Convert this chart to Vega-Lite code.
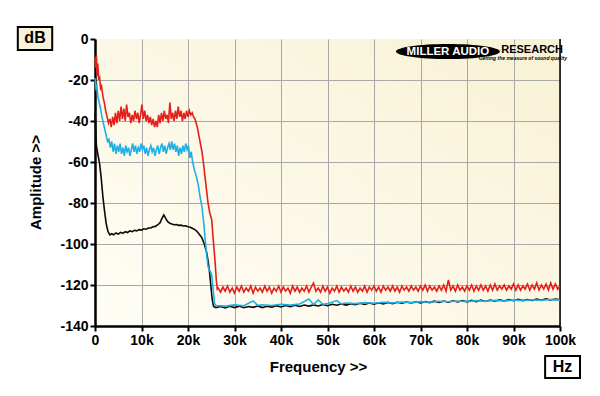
{
  "$schema": "https://vega.github.io/schema/vega-lite/v6.json",
  "width": 465,
  "height": 287,
  "autosize": {"type": "none"},
  "padding": {"left": 95, "top": 39, "right": 40, "bottom": 70},
  "background": "#ffffff",
  "config": {
    "view": {"stroke": null, "fill": {"gradient": "linear", "x1": 0, "y1": 1, "x2": 1, "y2": 0, "stops": [{"offset": 0, "color": "#fffef6"}, {"offset": 1, "color": "#f8f1d4"}]}},
    "axis": {
      "labelFont": "Liberation Sans", "labelFontWeight": "bold", "labelFontSize": 14, "labelColor": "#000000",
      "titleFont": "Liberation Sans", "titleFontWeight": "bold", "titleFontSize": 15, "titleColor": "#000000",
      "domainColor": "#000000", "domainWidth": 2.5, "tickColor": "#000000", "tickWidth": 2, "tickSize": 5,
      "gridColor": "#a8a8a8", "gridWidth": 1, "labelPadding": 2
    }
  },
  "datasets": {
    "red": [
      {"f":0,"v":-9},{"f":0.15,"v":-14},{"f":0.3,"v":-8},{"f":0.45,"v":-18},{"f":0.6,"v":-12},{"f":0.8,"v":-20},{"f":1.0,"v":-19},{"f":1.2,"v":-24},{"f":1.4,"v":-23},{"f":1.7,"v":-28},{"f":2.0,"v":-31},{"f":2.3,"v":-35},{"f":2.6,"v":-38},{"f":2.9,"v":-41},{"f":3.2,"v":-39},{"f":3.5,"v":-43},{"f":3.8,"v":-38},{"f":4.1,"v":-42},{"f":4.4,"v":-36},{"f":4.7,"v":-41},{"f":5.0,"v":-35},{"f":5.3,"v":-40},{"f":5.6,"v":-33},{"f":5.9,"v":-39},{"f":6.2,"v":-34},{"f":6.5,"v":-40},{"f":6.8,"v":-32},{"f":7.1,"v":-38},{"f":7.4,"v":-36},{"f":7.7,"v":-41},{"f":8.0,"v":-37},{"f":8.3,"v":-40},{"f":8.6,"v":-35},{"f":8.9,"v":-39},{"f":9.2,"v":-36},{"f":9.5,"v":-41},{"f":9.8,"v":-37},{"f":10.1,"v":-32},{"f":10.4,"v":-39},{"f":10.7,"v":-35},{"f":11.0,"v":-40},{"f":11.3,"v":-37},{"f":11.6,"v":-41},{"f":11.9,"v":-38},{"f":12.2,"v":-42},{"f":12.5,"v":-39},{"f":12.8,"v":-43},{"f":13.1,"v":-40},{"f":13.4,"v":-43},{"f":13.7,"v":-37},{"f":14.0,"v":-41},{"f":14.3,"v":-36},{"f":14.6,"v":-40},{"f":14.9,"v":-35},{"f":15.2,"v":-39},{"f":15.5,"v":-37},{"f":15.8,"v":-41},{"f":16.1,"v":-31},{"f":16.4,"v":-39},{"f":16.7,"v":-36},{"f":17.0,"v":-40},{"f":17.3,"v":-35},{"f":17.6,"v":-39},{"f":17.9,"v":-33},{"f":18.2,"v":-38},{"f":18.5,"v":-35},{"f":18.8,"v":-40},{"f":19.1,"v":-36},{"f":19.4,"v":-39},{"f":19.7,"v":-35},{"f":20.0,"v":-38},{"f":20.3,"v":-35},{"f":20.6,"v":-37},{"f":20.9,"v":-36},{"f":21.2,"v":-38},{"f":21.5,"v":-39},{"f":22.0,"v":-43},{"f":22.5,"v":-49},{"f":23.0,"v":-55},{"f":23.3,"v":-60},{"f":23.7,"v":-68},{"f":24.0,"v":-74},{"f":24.3,"v":-80},{"f":24.7,"v":-85},{"f":25.1,"v":-88},{"f":25.4,"v":-97},{"f":25.8,"v":-108},{"f":26.1,"v":-118},{"f":26.3,"v":-122},
      {"f":26.5,"v":-121.5},{"f":27,"v":-123.5},{"f":27.5,"v":-121},{"f":28,"v":-123},{"f":28.5,"v":-120.5},{"f":29,"v":-123.5},{"f":29.5,"v":-121.5},{"f":30,"v":-124},{"f":30.5,"v":-121},{"f":31,"v":-123},{"f":31.5,"v":-120.5},{"f":32,"v":-123.5},{"f":32.5,"v":-121.5},{"f":33,"v":-123},{"f":33.5,"v":-120.5},{"f":34,"v":-124},{"f":34.5,"v":-121},{"f":35,"v":-123},{"f":35.5,"v":-121.5},{"f":36,"v":-123.5},{"f":36.5,"v":-120.5},{"f":37,"v":-123},{"f":37.5,"v":-121},{"f":38,"v":-124},{"f":38.5,"v":-121.5},{"f":39,"v":-123},{"f":39.5,"v":-120.5},{"f":40,"v":-123.5},{"f":40.5,"v":-121},{"f":41,"v":-123},{"f":41.5,"v":-121.5},{"f":42,"v":-124},{"f":42.5,"v":-120.5},{"f":43,"v":-123},{"f":43.5,"v":-121},{"f":44,"v":-123.5},{"f":44.5,"v":-121.5},{"f":45,"v":-123},{"f":45.5,"v":-120.5},{"f":46,"v":-123.5},{"f":46.5,"v":-121},{"f":47,"v":-119},{"f":47.5,"v":-123},{"f":48,"v":-121.5},{"f":48.5,"v":-123.5},{"f":49,"v":-120.5},{"f":49.5,"v":-123},{"f":50,"v":-121},{"f":50.5,"v":-124},{"f":51,"v":-121.5},{"f":51.5,"v":-123},{"f":52,"v":-120.5},{"f":52.5,"v":-123.5},{"f":53,"v":-121},{"f":53.5,"v":-123},{"f":54,"v":-121.5},{"f":54.5,"v":-123.5},{"f":55,"v":-120.5},{"f":55.5,"v":-123},{"f":56,"v":-121},{"f":56.5,"v":-123.5},{"f":57,"v":-121.5},{"f":57.5,"v":-123},{"f":58,"v":-120.5},{"f":58.5,"v":-123.5},{"f":59,"v":-121},{"f":59.5,"v":-122.5},{"f":60,"v":-120.5},{"f":60.5,"v":-123},{"f":61,"v":-121},{"f":61.5,"v":-123.5},{"f":62,"v":-120.5},{"f":62.5,"v":-122.5},{"f":63,"v":-121},{"f":63.5,"v":-123},{"f":64,"v":-120.5},{"f":64.5,"v":-123},{"f":65,"v":-121},{"f":65.5,"v":-123.5},{"f":66,"v":-120.5},{"f":66.5,"v":-122.5},{"f":67,"v":-121},{"f":67.5,"v":-123},{"f":68,"v":-120.5},{"f":68.5,"v":-122.5},{"f":69,"v":-121},{"f":69.5,"v":-123},{"f":70,"v":-120.5},{"f":70.5,"v":-122.5},{"f":71,"v":-120},{"f":71.5,"v":-123},{"f":72,"v":-120.5},{"f":72.5,"v":-122.5},{"f":73,"v":-121},{"f":73.5,"v":-123},{"f":74,"v":-120.5},{"f":74.5,"v":-122.5},{"f":75,"v":-120},{"f":75.5,"v":-123},{"f":76,"v":-117.5},{"f":76.5,"v":-122.5},{"f":77,"v":-120.5},{"f":77.5,"v":-123},{"f":78,"v":-120},{"f":78.5,"v":-122.5},{"f":79,"v":-121},{"f":79.5,"v":-123},{"f":80,"v":-120.5},{"f":80.5,"v":-122.5},{"f":81,"v":-120},{"f":81.5,"v":-123},{"f":82,"v":-120.5},{"f":82.5,"v":-122.5},{"f":83,"v":-120},{"f":83.5,"v":-122.5},{"f":84,"v":-120.5},{"f":84.5,"v":-123},{"f":85,"v":-120},{"f":85.5,"v":-122.5},{"f":86,"v":-119.5},{"f":86.5,"v":-122.5},{"f":87,"v":-120.5},{"f":87.5,"v":-122},{"f":88,"v":-120},{"f":88.5,"v":-122.5},{"f":89,"v":-120.5},{"f":89.5,"v":-122},{"f":90,"v":-119.5},{"f":90.5,"v":-122.5},{"f":91,"v":-120},{"f":91.5,"v":-122.5},{"f":92,"v":-120.5},{"f":92.5,"v":-122},{"f":93,"v":-119.5},{"f":93.5,"v":-122.5},{"f":94,"v":-120},{"f":94.5,"v":-122},{"f":95,"v":-119},{"f":95.5,"v":-122.5},{"f":96,"v":-120},{"f":96.5,"v":-122},{"f":97,"v":-119.5},{"f":97.5,"v":-122.5},{"f":98,"v":-119},{"f":98.5,"v":-122},{"f":99,"v":-119.5},{"f":99.5,"v":-122},{"f":100,"v":-120.5}
    ],
    "cyan": [
      {"f":0,"v":-19},{"f":0.2,"v":-24},{"f":0.4,"v":-23},{"f":0.6,"v":-28},{"f":0.9,"v":-31},{"f":1.2,"v":-34},{"f":1.5,"v":-38},{"f":1.8,"v":-41},{"f":2.1,"v":-44},{"f":2.4,"v":-47},{"f":2.7,"v":-50},{"f":3.0,"v":-49},{"f":3.3,"v":-53},{"f":3.6,"v":-50},{"f":3.9,"v":-55},{"f":4.2,"v":-51},{"f":4.5,"v":-56},{"f":4.8,"v":-52},{"f":5.1,"v":-55},{"f":5.4,"v":-51},{"f":5.7,"v":-56},{"f":6.0,"v":-53},{"f":6.3,"v":-57},{"f":6.6,"v":-52},{"f":6.9,"v":-55},{"f":7.2,"v":-53},{"f":7.5,"v":-57},{"f":7.8,"v":-54},{"f":8.1,"v":-51},{"f":8.4,"v":-55},{"f":8.7,"v":-52},{"f":9.0,"v":-56},{"f":9.3,"v":-53},{"f":9.6,"v":-55},{"f":9.9,"v":-51},{"f":10.2,"v":-54},{"f":10.5,"v":-52},{"f":10.8,"v":-56},{"f":11.1,"v":-53},{"f":11.4,"v":-57},{"f":11.7,"v":-54},{"f":12.0,"v":-52},{"f":12.3,"v":-55},{"f":12.6,"v":-53},{"f":12.9,"v":-57},{"f":13.2,"v":-54},{"f":13.5,"v":-52},{"f":13.8,"v":-56},{"f":14.1,"v":-53},{"f":14.4,"v":-51},{"f":14.7,"v":-55},{"f":15.0,"v":-52},{"f":15.3,"v":-56},{"f":15.6,"v":-53},{"f":15.9,"v":-51},{"f":16.2,"v":-54},{"f":16.5,"v":-50},{"f":16.8,"v":-54},{"f":17.1,"v":-51},{"f":17.4,"v":-55},{"f":17.7,"v":-52},{"f":18.0,"v":-57},{"f":18.3,"v":-53},{"f":18.6,"v":-56},{"f":18.9,"v":-52},{"f":19.2,"v":-55},{"f":19.5,"v":-51},{"f":19.8,"v":-54},{"f":20.1,"v":-52},{"f":20.4,"v":-58},{"f":20.7,"v":-55},{"f":21.0,"v":-60},{"f":21.4,"v":-64},{"f":21.8,"v":-67},{"f":22.2,"v":-71},{"f":22.6,"v":-77},{"f":23.0,"v":-82},{"f":23.4,"v":-90},{"f":23.7,"v":-98},{"f":24.0,"v":-105},{"f":24.3,"v":-111},{"f":24.7,"v":-113},{"f":25.1,"v":-115},{"f":25.4,"v":-122},{"f":25.7,"v":-129},{"f":26.0,"v":-130},
      {"f":28,"v":-130.3},{"f":30,"v":-129.7},{"f":32,"v":-130.1},{"f":34,"v":-127.8},{"f":35,"v":-129.9},{"f":36,"v":-129.6},{"f":38,"v":-130.0},{"f":40,"v":-129.4},{"f":42,"v":-129.8},{"f":44,"v":-129.3},{"f":46,"v":-126.8},{"f":47,"v":-129.5},{"f":48,"v":-127.3},{"f":49,"v":-129.4},{"f":50,"v":-129.1},{"f":52,"v":-127.6},{"f":53,"v":-129.2},{"f":54,"v":-128.8},{"f":56,"v":-129.1},{"f":58,"v":-128.6},{"f":60,"v":-128.9},{"f":62,"v":-128.4},{"f":64,"v":-128.7},{"f":66,"v":-128.3},{"f":68,"v":-128.6},{"f":70,"v":-128.1},{"f":72,"v":-128.4},{"f":74,"v":-127.9},{"f":76,"v":-128.2},{"f":78,"v":-127.8},{"f":80,"v":-128.1},{"f":82,"v":-127.6},{"f":84,"v":-127.9},{"f":86,"v":-127.5},{"f":88,"v":-127.8},{"f":90,"v":-127.3},{"f":92,"v":-127.6},{"f":94,"v":-127.2},{"f":96,"v":-127.5},{"f":98,"v":-127.1},{"f":100,"v":-127.4}
    ],
    "black": [
      {"f":0,"v":-36},{"f":0.15,"v":-44},{"f":0.3,"v":-52},{"f":0.6,"v":-56},{"f":1.0,"v":-61},{"f":1.3,"v":-67},{"f":1.7,"v":-77},{"f":2.0,"v":-83},{"f":2.4,"v":-90},{"f":2.8,"v":-94},{"f":3.2,"v":-95.6},{"f":3.6,"v":-95},{"f":4.0,"v":-95.5},{"f":4.5,"v":-94.6},{"f":5.0,"v":-95.2},{"f":5.5,"v":-94.3},{"f":6.0,"v":-94.8},{"f":6.5,"v":-94},{"f":7.0,"v":-94.4},{"f":7.5,"v":-93.6},{"f":8.0,"v":-94},{"f":8.5,"v":-93.3},{"f":9.0,"v":-93.6},{"f":9.5,"v":-93},{"f":10.0,"v":-93.2},{"f":10.5,"v":-92.6},{"f":11.0,"v":-92.8},{"f":11.5,"v":-92.2},{"f":12.0,"v":-92.2},{"f":12.5,"v":-91.6},{"f":13.0,"v":-91.4},{"f":13.5,"v":-90.6},{"f":14.0,"v":-89.6},{"f":14.4,"v":-87.5},{"f":14.8,"v":-85.8},{"f":15.2,"v":-87.5},{"f":15.6,"v":-89},{"f":16.0,"v":-89.8},{"f":16.5,"v":-90.2},{"f":17.0,"v":-90.6},{"f":17.5,"v":-90.5},{"f":18.0,"v":-90.9},{"f":18.5,"v":-90.8},{"f":19.0,"v":-91.2},{"f":19.5,"v":-91.1},{"f":20.0,"v":-91.6},{"f":20.5,"v":-91.8},{"f":21.0,"v":-92.4},{"f":21.5,"v":-93},{"f":22.0,"v":-94},{"f":22.5,"v":-95.5},{"f":23.0,"v":-97},{"f":23.5,"v":-100},{"f":24.0,"v":-104},{"f":24.3,"v":-108},{"f":24.6,"v":-113},{"f":24.9,"v":-120},{"f":25.2,"v":-127},{"f":25.5,"v":-130.5},{"f":26.0,"v":-131},
      {"f":27,"v":-130.5},{"f":28,"v":-131.2},{"f":29,"v":-130.4},{"f":30,"v":-131},{"f":31,"v":-130.3},{"f":32,"v":-131.1},{"f":33,"v":-130.5},{"f":34,"v":-130.9},{"f":35,"v":-130.2},{"f":36,"v":-131},{"f":37,"v":-130.4},{"f":38,"v":-130.8},{"f":39,"v":-130.1},{"f":40,"v":-130.7},{"f":41,"v":-130},{"f":42,"v":-130.6},{"f":43,"v":-129.9},{"f":44,"v":-130.5},{"f":45,"v":-129.8},{"f":46,"v":-130.3},{"f":47,"v":-129.7},{"f":48,"v":-130.2},{"f":49,"v":-129.5},{"f":50,"v":-130.1},{"f":51,"v":-129.4},{"f":52,"v":-129.9},{"f":53,"v":-129.2},{"f":54,"v":-129.8},{"f":55,"v":-129.1},{"f":56,"v":-129.6},{"f":57,"v":-128.9},{"f":58,"v":-129.5},{"f":59,"v":-128.8},{"f":60,"v":-129.3},{"f":61,"v":-128.7},{"f":62,"v":-129.2},{"f":63,"v":-128.5},{"f":64,"v":-129.1},{"f":65,"v":-128.4},{"f":66,"v":-128.9},{"f":67,"v":-128.3},{"f":68,"v":-128.8},{"f":69,"v":-128.2},{"f":70,"v":-128.7},{"f":71,"v":-128.1},{"f":72,"v":-128.6},{"f":73,"v":-127.9},{"f":74,"v":-128.5},{"f":75,"v":-127.8},{"f":76,"v":-128.4},{"f":77,"v":-127.7},{"f":78,"v":-128.3},{"f":79,"v":-127.6},{"f":80,"v":-128.2},{"f":81,"v":-127.5},{"f":82,"v":-128.1},{"f":83,"v":-127.4},{"f":84,"v":-128},{"f":85,"v":-127.3},{"f":86,"v":-127.9},{"f":87,"v":-127.2},{"f":88,"v":-127.8},{"f":89,"v":-127.1},{"f":90,"v":-127.7},{"f":91,"v":-127},{"f":92,"v":-127.6},{"f":93,"v":-127.1},{"f":94,"v":-127.5},{"f":95,"v":-126.9},{"f":96,"v":-127.4},{"f":97,"v":-126.8},{"f":98,"v":-127.3},{"f":99,"v":-126.9},{"f":100,"v":-127.2}
    ],
    "one": [{}]
  },
  "layer": [
    {
      "data": {"name": "black"},
      "mark": {"type": "line", "color": "#0a0a0a", "strokeWidth": 1.6},
      "encoding": {
        "x": {"field": "f", "type": "quantitative", "title": "Frequency >>", "scale": {"domain": [0, 100], "nice": false, "zero": false},
          "axis": {"values": [0,10,20,30,40,50,60,70,80,90,100], "labelExpr": "datum.value == 0 ? '0' : datum.value + 'k'", "labelFlush": false, "labelOverlap": false, "grid": true, "titleX": 223, "titleY": 40, "titleBaseline": "middle", "titleAlign": "center"}},
        "y": {"field": "v", "type": "quantitative", "title": "Amplitude >>", "scale": {"domain": [-140, 0], "nice": false, "zero": false},
          "axis": {"values": [-140,-120,-100,-80,-60,-40,-20,0], "labelExpr": "datum.value == 0 ? '0' : '-' + abs(datum.value)", "labelFlush": false, "labelOverlap": false, "grid": true, "gridOpacity": {"condition": {"test": "datum.value == 0", "value": 0}, "value": 1}, "titleX": -60, "titleY": 143, "titleBaseline": "middle", "titleAlign": "center", "titleAngle": -90}}
      }
    },
    {
      "data": {"name": "one"},
      "mark": {"type": "rule", "color": "#000000", "strokeWidth": 1.5},
      "encoding": {
        "x": {"datum": 100, "type": "quantitative", "title": "Frequency >>"},
        "y": {"datum": 0, "type": "quantitative", "title": "Amplitude >>"},
        "y2": {"datum": -140}
      }
    },
    {
      "data": {"name": "red"},
      "mark": {"type": "line", "color": "#e3201b", "strokeWidth": 1.6},
      "encoding": {
        "x": {"field": "f", "type": "quantitative", "title": "Frequency >>"},
        "y": {"field": "v", "type": "quantitative", "title": "Amplitude >>"}
      }
    },
    {
      "data": {"name": "cyan"},
      "mark": {"type": "line", "color": "#1fb0e6", "strokeWidth": 1.6},
      "encoding": {
        "x": {"field": "f", "type": "quantitative", "title": "Frequency >>"},
        "y": {"field": "v", "type": "quantitative", "title": "Amplitude >>"}
      }
    },
    {
      "data": {"name": "one"},
      "mark": {"type": "point", "shape": "M-1,0A1,0.146,0,1,1,1,0A1,0.146,0,1,1,-1,0Z", "filled": true, "color": "#000000", "opacity": 1, "size": 10816},
      "encoding": {
        "x": {"datum": 75.9, "type": "quantitative", "title": "Frequency >>"},
        "y": {"datum": -6.1, "type": "quantitative", "title": "Amplitude >>"}
      }
    },
    {
      "data": {"name": "one"},
      "mark": {"type": "text", "text": "MILLER AUDIO", "font": "Liberation Sans", "fontWeight": "bold", "fontSize": 11.5, "color": "#ffffff", "align": "center", "baseline": "middle"},
      "encoding": {
        "x": {"datum": 75.9, "type": "quantitative", "title": "Frequency >>"},
        "y": {"datum": -6.1, "type": "quantitative", "title": "Amplitude >>"}
      }
    },
    {
      "data": {"name": "one"},
      "mark": {"type": "text", "text": "RESEARCH", "font": "Liberation Sans", "fontWeight": "bold", "fontSize": 11, "color": "#000000", "align": "center", "baseline": "middle"},
      "encoding": {
        "x": {"datum": 94.0, "type": "quantitative", "title": "Frequency >>"},
        "y": {"datum": -5.2, "type": "quantitative", "title": "Amplitude >>"}
      }
    },
    {
      "data": {"name": "one"},
      "mark": {"type": "text", "text": "Getting the measure of sound quality", "font": "Liberation Sans", "fontWeight": "bold", "fontStyle": "italic", "fontSize": 5, "color": "#000000", "align": "center", "baseline": "middle"},
      "encoding": {
        "x": {"datum": 92.0, "type": "quantitative", "title": "Frequency >>"},
        "y": {"datum": -9.3, "type": "quantitative", "title": "Amplitude >>"}
      }
    },
    {
      "data": {"name": "one"},
      "mark": {"type": "rect", "fill": "#f6f1d8", "stroke": "#000000", "strokeWidth": 2},
      "encoding": {
        "x": {"datum": -16.6, "type": "quantitative", "title": "Frequency >>"},
        "x2": {"datum": -9.2},
        "y": {"datum": 5.9, "type": "quantitative", "title": "Amplitude >>"},
        "y2": {"datum": -5.4}
      }
    },
    {
      "data": {"name": "one"},
      "mark": {"type": "text", "text": "dB", "font": "Liberation Sans", "fontWeight": "bold", "fontSize": 16, "color": "#000000", "align": "center", "baseline": "middle"},
      "encoding": {
        "x": {"datum": -12.9, "type": "quantitative", "title": "Frequency >>"},
        "y": {"datum": 0.3, "type": "quantitative", "title": "Amplitude >>"}
      }
    },
    {
      "data": {"name": "one"},
      "mark": {"type": "rect", "fill": "#ffffff", "stroke": "#000000", "strokeWidth": 2},
      "encoding": {
        "x": {"datum": 96.8, "type": "quantitative", "title": "Frequency >>"},
        "x2": {"datum": 104.3},
        "y": {"datum": -154.6, "type": "quantitative", "title": "Amplitude >>"},
        "y2": {"datum": -165.4}
      }
    },
    {
      "data": {"name": "one"},
      "mark": {"type": "text", "text": "Hz", "font": "Liberation Sans", "fontWeight": "bold", "fontSize": 16, "color": "#000000", "align": "center", "baseline": "middle"},
      "encoding": {
        "x": {"datum": 100.55, "type": "quantitative", "title": "Frequency >>"},
        "y": {"datum": -159.9, "type": "quantitative", "title": "Amplitude >>"}
      }
    }
  ]
}
